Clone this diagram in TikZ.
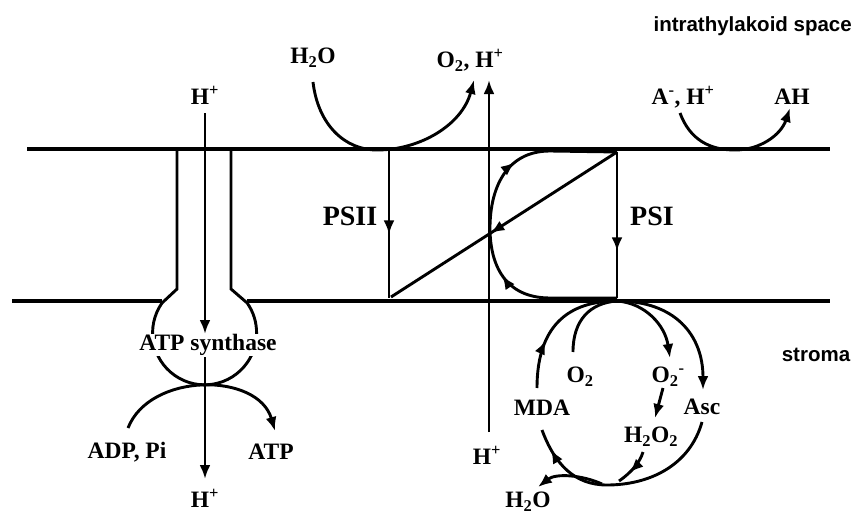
\documentclass[tikz,border=0pt]{standalone}
\usepackage{fontspec}
\setmainfont{Liberation Serif}
\setsansfont{Liberation Sans}
\usetikzlibrary{arrows.meta,decorations.markings}
\begin{document}
\begin{tikzpicture}[x=1pt,y=-1pt,
  mem/.style={line width=3.4pt},
  ln/.style={line width=2.9pt},
  arr/.style={ln,-{Latex[length=14pt,width=11pt]}},
  midarr/.style={postaction={decorate},decoration={markings,mark=at position #1 with {\arrow{Latex[length=14pt,width=11pt]}}}},
  twoarr/.style 2 args={postaction={decorate},decoration={markings,
     mark=at position #1 with {\arrow{Latex[length=14pt,width=11pt]}},
     mark=at position #2 with {\arrow{Latex[length=14pt,width=11pt]}}}},
  lbl/.style={font=\fontsize{23.5}{23.5}\selectfont\bfseries, inner sep=1pt},
  big/.style={font=\fontsize{28}{28}\selectfont\bfseries, inner sep=1pt},
  sans/.style={font=\fontsize{20.5}{20.5}\selectfont\sffamily\bfseries, inner sep=0pt}
]
\useasboundingbox (0,0) rectangle (855,514);

% ---------- coordinates ----------
\coordinate (mTL) at (27,149);   \coordinate (mTR) at (830,149);
\coordinate (mBL) at (12,301);   \coordinate (mBLe) at (162,301);
\coordinate (mBRs) at (247,301); \coordinate (mBR) at (830,301);
\coordinate (sL1) at (177,149);  \coordinate (sL2) at (177,289); \coordinate (sL3) at (162,303);
\coordinate (sR1) at (231,149);  \coordinate (sR2) at (231,289);
\coordinate (hA) at (205,113);   \coordinate (hB) at (205,334);
\coordinate (hC) at (205,357);   \coordinate (hD) at (205,479);
\coordinate (adpS) at (128,428); \coordinate (atpE) at (275,431);
\coordinate (wS) at (313,82);    \coordinate (wM) at (377,150); \coordinate (wE) at (474,80);
\coordinate (pB) at (489,432);   \coordinate (pT) at (489,80);
\coordinate (ps2T) at (389,150); \coordinate (ps2B) at (389,298);
\coordinate (ps1T) at (617,152); \coordinate (ps1B) at (617,298);
\coordinate (dB) at (391,297);
\coordinate (aS) at (680,113);   \coordinate (aM) at (735,150); \coordinate (aE) at (790,108);
\coordinate (J) at (617,301);
\coordinate (ascT) at (703,390); \coordinate (ascB) at (702,422);
\coordinate (mdaT) at (537,388); \coordinate (mdaB) at (542,430);
\coordinate (o2T) at (573,352);  \coordinate (o2mT) at (670,358);
\coordinate (o2mB) at (663,388); \coordinate (hpT) at (655,418);
\coordinate (hpB) at (643,452);  \coordinate (hpE) at (619,481);
\coordinate (bot) at (607,485);
\coordinate (wB1) at (602,484);  \coordinate (wB2) at (538,487);

% ---------- membranes ----------
\draw[mem] (mTL) -- (mTR);
\draw[mem] (mBL) -- (mBLe);
\draw[mem] (mBRs) -- (mBR);

% ---------- ATP synthase ----------
\draw[ln] (sL1) -- (sL2) -- (sL3) arc[start angle=215, end angle=-35, radius=52] -- (sR2) -- (sR1);
\draw[arr] (hA) -- (hB);
\draw[arr] (hC) -- (hD);
\draw[arr] (adpS) .. controls (150,372) and (258,372) .. (atpE);

% ---------- PSII / water splitting ----------
\draw[arr] (wS) .. controls (318,125) and (345,150) .. (wM) .. controls (420,150) and (462,125) .. (wE);
\draw[arr] (pB) -- (pT);
\draw[ln, midarr=0.57] (ps2T) -- (ps2B);
\draw[ln, midarr=0.56] (ps1T) -- (dB);
\draw[ln, midarr=0.68] (ps1T) -- (ps1B);
\draw[ln, twoarr={0.35}{0.7}] (ps1B) -- (550,298) .. controls (505,298) and (490,265) .. (490,228)
      .. controls (490,190) and (505,151) .. (550,151) -- (ps1T);

% ---------- A-, H+ -> AH ----------
\draw[arr] (aS) .. controls (690,140) and (710,150) .. (aM) .. controls (760,150) and (781,135) .. (aE);

% ---------- stroma cycle ----------
\draw[arr] (J) .. controls (675,301) and (703,335) .. (ascT);
\draw[ln, midarr=0.36] (mdaT) .. controls (537,335) and (560,301) .. (J);
\draw[ln] (o2T) .. controls (573,320) and (590,303) .. (J);
\draw[arr] (J) .. controls (645,303) and (665,325) .. (o2mT);
\draw[ln, midarr=0.9] (ascB) .. controls (690,465) and (650,485) .. (bot) .. controls (575,485) and (555,465) .. (mdaB);
\draw[arr] (o2mB) -- (hpT);
\draw[ln, midarr=0.65] (hpB) .. controls (640,462) and (632,472) .. (hpE);
\draw[arr] (wB1) .. controls (582,475) and (556,473) .. (wB2);

% ---------- labels ----------
\node[sans, anchor=base east] (isp) at (852,31) {intrathylakoid space};
\node[sans] (str) at (816,355) {stroma};
\node[lbl] (hTop) at (205,95) {H\textsuperscript{+}};
\node[lbl] (hBot) at (205,498) {H\textsuperscript{+}};
\node[lbl, fill=white, inner sep=0pt] (atps) at (208,345) {ATP synthase};
\node[lbl] (adp) at (127,452) {ADP, Pi};
\node[lbl] (atp) at (271,452) {ATP};
\node[lbl] (h2oT) at (313,58) {H\textsubscript{2}O};
\node[lbl] (o2h) at (470,60) {O\textsubscript{2}, H\textsuperscript{+}};
\node[lbl] (hMid) at (487,455) {H\textsuperscript{+}};
\node[big] (psii) at (350,216) {PSII};
\node[big] (psi) at (652,216) {PSI};
\node[lbl] (amh) at (683,97) {A\textsuperscript{-}, H\textsuperscript{+}};
\node[lbl] (ah) at (792,97) {AH};
\node[lbl] (o2) at (580,377) {O\textsubscript{2}};
\node[lbl] (o2m) at (668,377) {O\textsubscript{2}\textsuperscript{-}};
\node[lbl] (asc) at (702,407) {Asc};
\node[lbl] (mda) at (542,408) {MDA};
\node[lbl] (h2o2) at (651,437) {H\textsubscript{2}O\textsubscript{2}};
\node[lbl] (h2oB) at (528,502) {H\textsubscript{2}O};
\end{tikzpicture}
\end{document}
